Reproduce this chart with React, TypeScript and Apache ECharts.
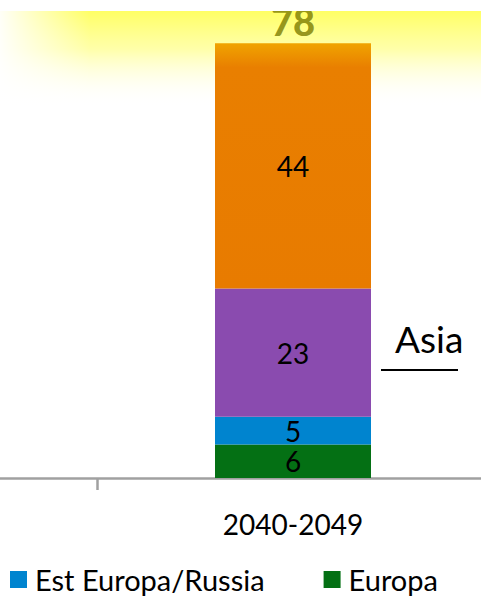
import React, { useEffect, useRef } from "react";
import * as echarts from "echarts";

const categories = ["", "2040-2049"];
const europa = [null, 6];
const estEuropa = [null, 5];
const asia = [null, 23];
const altri = [null, 44];
const totals = [null, 78];
const legendItems = ["Est Europa/Russia", "Europa"];

const FONT = "Lato, 'Open Sans', sans-serif";
const OX = 295; // inner chart is shifted left so the first category lies off-screen

export default function App() {
  const ref = useRef<HTMLDivElement>(null);
  useEffect(() => {
    if (!ref.current) return;
    const chart = echarts.init(ref.current, null, { renderer: "svg" });
    const segLabel = { show: true, position: "inside", color: "#000", fontSize: 28, fontFamily: FONT };
    chart.setOption({
      animation: false,
      textStyle: { fontFamily: FONT },
      grid: { left: 0, right: 0, top: 32, bottom: 133, containLabel: false },
      legend: {
        data: legendItems,
        left: OX + 10,
        top: 565,
        padding: 0,
        icon: "rect",
        itemWidth: 17,
        itemHeight: 17,
        itemGap: 59,
        textStyle: { fontSize: 29, color: "#000", fontFamily: FONT, padding: [0, 0, 0, 3] },
      },
      xAxis: {
        type: "category",
        data: categories,
        axisLine: { lineStyle: { color: "#a0a0a0", width: 2.5 } },
        axisTick: { show: true, length: 12, lineStyle: { color: "#a0a0a0", width: 2.5 } },
        axisLabel: { fontSize: 28, color: "#000", margin: 32, fontFamily: FONT },
      },
      yAxis: { type: "value", min: 0, max: 80, show: false, splitLine: { show: false } },
      series: [
        {
          name: "Europa", type: "bar", stack: "t", barWidth: 156, data: europa,
          itemStyle: { color: "#047014" }, label: segLabel,
        },
        {
          name: "Est Europa/Russia", type: "bar", stack: "t", data: estEuropa,
          itemStyle: { color: "#0084CF" }, label: segLabel,
        },
        {
          name: "Asia", type: "bar", stack: "t", data: asia,
          itemStyle: { color: "#8A4BAF" }, label: segLabel,
        },
        {
          name: "Altri", type: "bar", stack: "t", data: altri,
          itemStyle: {
            color: new echarts.graphic.LinearGradient(0, 0, 0, 1, [
              { offset: 0, color: "#F0A400" },
              { offset: 0.1, color: "#E97F00" },
              { offset: 1, color: "#E87B00" },
            ]),
          },
          label: segLabel,
        },
        {
          name: "Totale", type: "scatter", data: totals, symbolSize: 0, z: 5,
          label: {
            show: true, position: "top", distance: 3, fontSize: 38, fontWeight: 900,
            color: "#7A7A00", fontFamily: FONT,
          },
        },
      ],
      graphic: [
        {
          type: "rect", z: -10, shape: { x: OX, y: 11, width: 481, height: 95 },
          style: {
            fill: new echarts.graphic.LinearGradient(0, 0, 0, 1, [
              { offset: 0, color: "rgba(255,255,100,1)" },
              { offset: 0.4, color: "rgba(255,255,140,0.75)" },
              { offset: 1, color: "rgba(255,255,255,0)" },
            ]),
          },
        },
        {
          type: "rect", z: -9, shape: { x: OX, y: 11, width: 90, height: 95 },
          style: {
            fill: new echarts.graphic.LinearGradient(0, 0, 1, 0, [
              { offset: 0, color: "rgba(255,255,255,0.95)" },
              { offset: 1, color: "rgba(255,255,255,0)" },
            ]),
          },
        },
        {
          type: "rect", z: 100, shape: { x: OX, y: 0, width: 481, height: 11 },
          style: { fill: "#ffffff" },
        },
        {
          type: "text", z: 10, x: OX + 395, y: 320,
          style: { text: "Asia", fontSize: 37, fill: "#000", fontFamily: FONT },
        },
        {
          type: "line", z: 10, shape: { x1: OX + 381, y1: 370, x2: OX + 458, y2: 370 },
          style: { stroke: "#000", lineWidth: 2 },
        },
      ],
    });
    return () => chart.dispose();
  }, []);
  return (
    <div style={{ position: "absolute", left: 0, top: 0, width: 481, height: 611, overflow: "hidden" }}>
      <div ref={ref} style={{ position: "absolute", left: -OX, top: 0, width: 784, height: 611 }} />
    </div>
  );
}
